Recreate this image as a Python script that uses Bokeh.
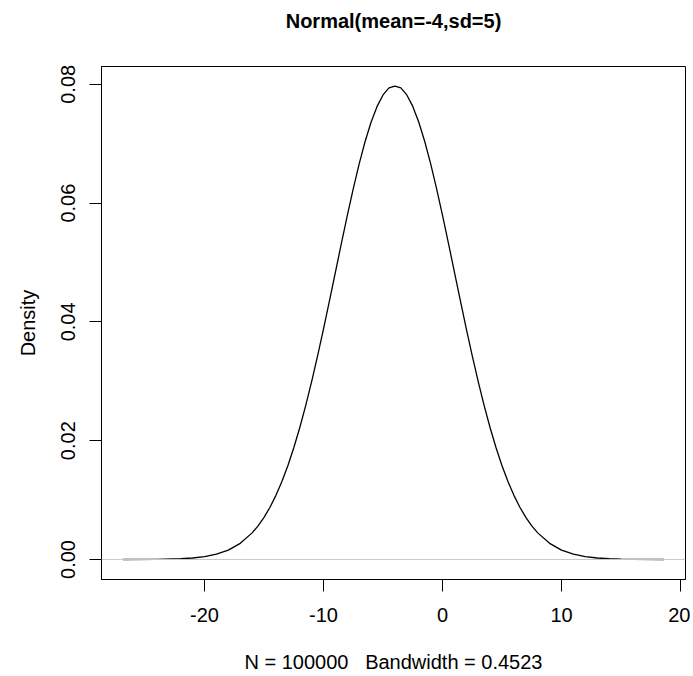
from bokeh.plotting import figure
from bokeh.models import Range1d, FixedTicker, Span, ColumnDataSource, Title
from bokeh.embed import file_html
from bokeh.resources import INLINE

# ---- data ----
title_text = "Normal(mean=-4,sd=5)"
x_label = "N = 100000\u00a0\u00a0\u00a0Bandwidth = 0.4523"
y_label = "Density"

x_ticks = [-20, -10, 0, 10, 20]
x_tick_labels = ["-20", "-10", "0", "10", "20"]
y_ticks = [0.0, 0.02, 0.04, 0.06, 0.08]
y_tick_labels = ["0.00", "0.02", "0.04", "0.06", "0.08"]

dens_x = [-26.84, -24, -22, -21, -20, -19, -18, -17, -16, -15.5, -15, -14.5, -14,
          -13.5, -13, -12.5, -12, -11.5, -11, -10.5, -10, -9.5, -9, -8.5, -8,
          -7.5, -7, -6.5, -6, -5.5, -5, -4.5, -4, -3.5, -3, -2.5, -2, -1.5, -1,
          -0.5, 0, 0.5, 1, 1.5, 2, 2.5, 3, 3.5, 4, 4.5, 5, 5.5, 6, 6.5, 7, 7.5,
          8, 9, 10, 11, 12, 13, 14, 15, 16, 18.6]
dens_y = [0.0, 0.00003, 0.00012, 0.00025, 0.00048, 0.00089, 0.00158, 0.00272,
          0.00448, 0.00566, 0.00710, 0.00880, 0.01080, 0.01312, 0.01579, 0.01881,
          0.02218, 0.02591, 0.02995, 0.03428, 0.03884, 0.04357, 0.04839, 0.05322,
          0.05794, 0.06245, 0.06665, 0.07042, 0.07366, 0.07628, 0.07821, 0.07939,
          0.07970, 0.07939, 0.07821, 0.07628, 0.07366, 0.07042, 0.06665, 0.06245,
          0.05794, 0.05322, 0.04839, 0.04357, 0.03884, 0.03428, 0.02995, 0.02591,
          0.02218, 0.01881, 0.01579, 0.01312, 0.01080, 0.00880, 0.00710, 0.00566,
          0.00448, 0.00272, 0.00158, 0.00089, 0.00048, 0.00025, 0.00012, 0.00006,
          0.00003, 0.0]

x_lo, x_hi = -28.66, 20.42
y_lo, y_hi = -0.00337, 0.0830

FONT = "Liberation Sans"

p = figure(width=690, height=676, x_range=Range1d(x_lo, x_hi),
           y_range=Range1d(y_lo, y_hi), output_backend="svg",
           toolbar_location=None,
           min_border_left=101, min_border_right=5, min_border_top=66,
           min_border_bottom=97)

p.background_fill_color = "white"
p.border_fill_color = "white"
p.outline_line_color = "black"
p.outline_line_width = 1
p.grid.visible = False

# blank spacer next to the frame, then the real title above it
spacer = Title(text=" ", text_font=FONT, text_font_size="20px", standoff=11)
main_title = Title(text=title_text, align="center", vertical_align="bottom",
                   standoff=0, text_font=FONT, text_font_size="20px",
                   text_font_style="bold", text_color="black")
p.add_layout(spacer, "above")
p.add_layout(main_title, "above")

for ax in (p.xaxis[0], p.yaxis[0]):
    ax.axis_line_color = "black"
    ax.major_tick_line_color = "black"
    ax.minor_tick_line_color = None
    ax.major_tick_out = 12
    ax.major_tick_in = 0
    ax.major_label_text_font = FONT
    ax.major_label_text_font_size = "20px"
    ax.major_label_text_color = "black"
    ax.axis_label_text_font = FONT
    ax.axis_label_text_font_size = "20px"
    ax.axis_label_text_font_style = "normal"
    ax.axis_label_text_color = "black"

p.xaxis.ticker = FixedTicker(ticks=x_ticks)
p.xaxis.major_label_overrides = {t: l for t, l in zip(x_ticks, x_tick_labels)}
p.xaxis.axis_label = x_label
p.xaxis.major_label_standoff = 16
p.xaxis.axis_label_standoff = 26

p.yaxis.ticker = FixedTicker(ticks=y_ticks)
p.yaxis.major_label_overrides = {t: l for t, l in zip(y_ticks, y_tick_labels)}
p.yaxis.major_label_orientation = "vertical"
p.yaxis.axis_label = y_label
p.yaxis.major_label_standoff = 14
p.yaxis.axis_label_standoff = 20

p.add_layout(Span(location=0, dimension="width", line_color="#c8c8c8", line_width=1))

src = ColumnDataSource(dict(x=dens_x, y=dens_y))
p.line("x", "y", source=src, line_color="black", line_width=1.3)

open("out.html", "w").write(file_html(p, INLINE))
